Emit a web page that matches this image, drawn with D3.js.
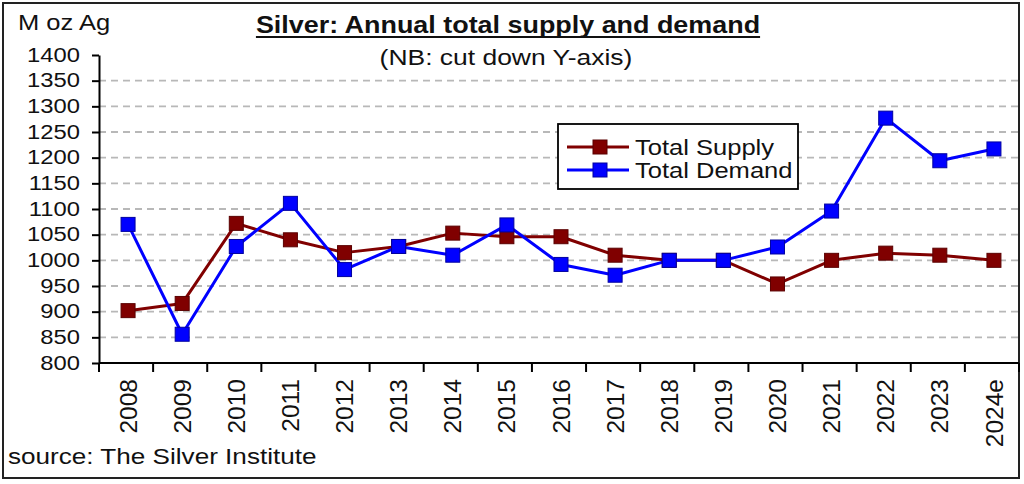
<!DOCTYPE html>
<html><head><meta charset="utf-8">
<script src="https://cdn.jsdelivr.net/npm/d3@7"></script>
<style>html,body{margin:0;padding:0;background:#fff;} svg{display:block;font-family:"Liberation Sans",Arial,sans-serif;}</style>
</head><body>
<svg id="c" width="1024" height="484"></svg>
<script>
const categories = ["2008","2009","2010","2011","2012","2013","2014","2015","2016","2017","2018","2019","2020","2021","2022","2023","2024e"];
const totalSupply = [902,916,1072,1040,1015,1027,1053,1046,1046,1010,1000,1000,954,1000,1014,1010,1000];
const totalDemand = [1070,856,1027,1111,982,1027,1010,1069,992,971,1000,1000,1026,1096,1277,1194,1217];
const yTicks = [800,850,900,950,1000,1050,1100,1150,1200,1250,1300,1350,1400];
const gridTicks = [850,900,950,1000,1050,1100,1150,1200,1250,1300,1350];
const seriesNames = ["Total Supply","Total Demand"];
const seriesColors = ["#800000","#0000ff"];
const markerStroke = ["#5a0000","#0000a0"];
const titleText = "Silver: Annual total supply and demand";
const subtitleText = "(NB: cut down Y-axis)";
const unitText = "M oz Ag";
const sourceText = "source: The Silver Institute";

const SX = 1.16;
const svg = d3.select("#c");
const pLeft = 99, pRight = 1019, pTop = 55, pBottom = 363;

const x = d3.scaleBand().domain(categories).range([101, 1021]);
const y = d3.scaleLinear().domain([800, 1400]).range([pBottom, pTop]);
const cx = d => x(d) + x.bandwidth() / 2;

function stretch(sel) {
  sel.each(function() {
    const w = this.getComputedTextLength();
    this.setAttribute("textLength", w * SX);
    this.setAttribute("lengthAdjust", "spacingAndGlyphs");
  });
}

// outer border
svg.append("rect").attr("x", 3).attr("y", 3).attr("width", 1016).attr("height", 475)
  .attr("fill", "#fff").attr("stroke", "#222").attr("stroke-width", 2);

// gridlines
svg.append("g").selectAll("line").data(gridTicks).join("line")
  .attr("x1", pLeft).attr("x2", pRight)
  .attr("y1", d => y(d)).attr("y2", d => y(d))
  .attr("stroke", "#b8b8b8").attr("stroke-width", 1.8).attr("stroke-dasharray", "7,5");

// y axis
const yAxis = svg.append("g").attr("transform", `translate(${pLeft},0)`)
  .call(d3.axisLeft(y).tickValues(yTicks).tickSize(7).tickSizeOuter(0).tickPadding(12).tickFormat(d3.format("d")));
yAxis.selectAll("path,line").attr("stroke", "#000").attr("stroke-width", 2);
yAxis.selectAll("text").attr("font-size", "20.5px").attr("fill", "#111").attr("font-family", "Liberation Sans, Arial, sans-serif").attr("dy", "0.3em");
stretch(yAxis.selectAll("text"));

// x axis
const xg = svg.append("g");
xg.append("line").attr("x1", pLeft).attr("x2", pRight).attr("y1", pBottom).attr("y2", pBottom)
  .attr("stroke", "#000").attr("stroke-width", 2);
const bounds = d3.range(categories.length + 1).map(i => x.range()[0] - 2 + i * x.step());
xg.selectAll("line.tk").data(bounds).join("line").attr("class", "tk")
  .attr("x1", d => Math.min(d, pRight)).attr("x2", d => Math.min(d, pRight))
  .attr("y1", pBottom).attr("y2", pBottom + 9)
  .attr("stroke", "#000").attr("stroke-width", 2);
xg.selectAll("text").data(categories).join("text")
  .attr("transform", d => `translate(${cx(d)},379) rotate(-90)`)
  .attr("text-anchor", "end").attr("dy", "0.35em")
  .attr("font-size", "24.5px").attr("fill", "#111")
  .text(d => d);

// series
const series = [totalSupply, totalDemand];
series.forEach((vals, i) => {
  const line = d3.line().x((v, j) => cx(categories[j])).y(v => y(v));
  svg.append("path").datum(vals).attr("d", line)
    .attr("fill", "none").attr("stroke", seriesColors[i]).attr("stroke-width", 3).attr("stroke-linejoin", "round");
});
series.forEach((vals, i) => {
  svg.append("g").selectAll("rect").data(vals).join("rect")
    .attr("x", (v, j) => cx(categories[j]) - 7).attr("y", v => y(v) - 7)
    .attr("width", 14).attr("height", 14)
    .attr("fill", seriesColors[i]).attr("stroke", markerStroke[i]).attr("stroke-width", 1);
});

// legend
const lg = svg.append("g");
lg.append("rect").attr("x", 558).attr("y", 124).attr("width", 240).attr("height", 65)
  .attr("fill", "#fff").attr("stroke", "#000").attr("stroke-width", 1.8);
seriesNames.forEach((name, i) => {
  const ly = 147 + i * 23;
  lg.append("line").attr("x1", 567).attr("x2", 629).attr("y1", ly).attr("y2", ly)
    .attr("stroke", seriesColors[i]).attr("stroke-width", 3);
  lg.append("rect").attr("x", 593).attr("y", ly - 7).attr("width", 14).attr("height", 14)
    .attr("fill", seriesColors[i]).attr("stroke", markerStroke[i]).attr("stroke-width", 1);
  lg.append("text").attr("x", 635).attr("y", ly).attr("dy", "0.36em")
    .attr("font-size", "22px").attr("fill", "#111").text(name);
});
stretch(lg.selectAll("text"));

// title
const t = svg.append("text").attr("x", 508).attr("y", 33).attr("text-anchor", "middle")
  .attr("font-size", "23.2px").attr("font-weight", "bold").attr("fill", "#111").text(titleText);
const tw = t.node().getComputedTextLength() * SX;
stretch(t);
svg.append("line").attr("x1", 508 - tw / 2).attr("x2", 508 + tw / 2).attr("y1", 37).attr("y2", 37)
  .attr("stroke", "#111").attr("stroke-width", 2);

const st = svg.append("text").attr("x", 506).attr("y", 65).attr("text-anchor", "middle")
  .attr("font-size", "22.8px").attr("fill", "#111").text(subtitleText);
stretch(st);

const ut = svg.append("text").attr("x", 18).attr("y", 30)
  .attr("font-size", "22px").attr("fill", "#111").text(unitText);
stretch(ut);

const so = svg.append("text").attr("x", 8).attr("y", 464)
  .attr("font-size", "22.5px").attr("fill", "#111").text(sourceText);
stretch(so);
</script>
</body></html>
